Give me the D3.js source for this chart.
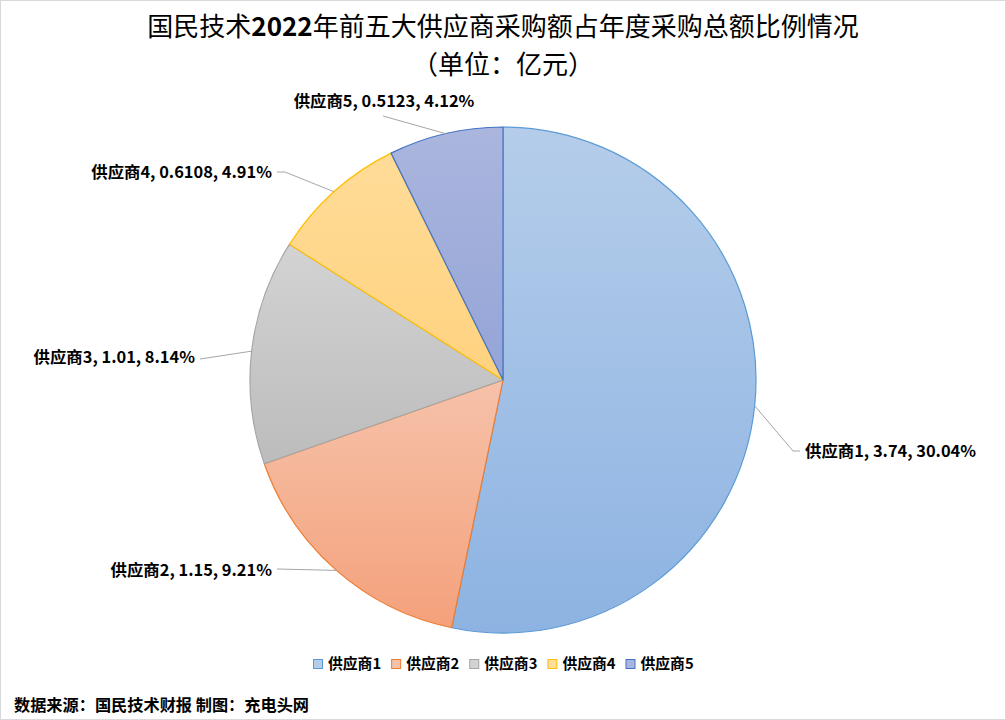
<!DOCTYPE html>
<html>
<head>
<meta charset="utf-8">
<script src="https://cdn.jsdelivr.net/npm/d3@7"></script>
<style>
  body { margin: 0; background: #fff; }
  svg { display: block; }
</style>
</head>
<body>
<svg id="chart" width="1006" height="720"></svg>
<script>
// data
var suppliers = ["供应商1", "供应商2", "供应商3", "供应商4", "供应商5"];
var amounts = [3.74, 1.15, 1.01, 0.6108, 0.5123];
var amountLabels = ["3.74", "1.15", "1.01", "0.6108", "0.5123"];
var shareLabels = ["30.04%", "9.21%", "8.14%", "4.91%", "4.12%"];

var W = 1006, H = 720;
var cx = 503, cy = 380, R = 253;
var font = "'Noto Sans CJK SC', 'Liberation Sans', sans-serif";

// office-like palette: stroke, light, dark
var strokes = ["#5b9bd5", "#ed7d31", "#a5a5a5", "#ffc000", "#4472c4"];
var lights = ["#b5cdea", "#f6c2aa", "#d3d3d3", "#ffdc98", "#abb6de"];
var darks = ["#8db3e2", "#f4a17b", "#bcbcbc", "#ffd27f", "#94a4d7"];

// label placement: [elbowX, elbowY, endX, endY, anchor, textX, textY]
var labelPos = [
  [793, 451, 800, 451, "start", 805, 451],
  [null, null, 277, 569, "end", 272, 570],
  [null, null, 200, 359, "end", 195, 357],
  [285, 172, 277, 172, "end", 272, 172],
  [null, null, 383, 116, "middle", 384, 101]
];

var svg = d3.select("#chart");

svg.append("rect")
  .attr("x", 0.5).attr("y", 0.5)
  .attr("width", W - 1).attr("height", H - 1)
  .attr("fill", "#fff").attr("stroke", "#d9d9d9");

var defs = svg.append("defs");
suppliers.forEach(function (s, i) {
  var g = defs.append("linearGradient")
    .attr("id", "g" + i)
    .attr("x1", 0).attr("y1", 0).attr("x2", 0).attr("y2", 1);
  g.append("stop").attr("offset", "0%").attr("stop-color", lights[i]);
  g.append("stop").attr("offset", "100%").attr("stop-color", darks[i]);
});

// title
var title = svg.append("text")
  .attr("x", W / 2).attr("y", 36)
  .attr("text-anchor", "middle")
  .attr("font-family", font)
  .attr("font-size", 26)
  .attr("fill", "#000");
title.append("tspan").text("国民技术");
title.append("tspan").attr("font-weight", "bold").text("2022");
title.append("tspan").text("年前五大供应商采购额占年度采购总额比例情况");

svg.append("text")
  .attr("x", W / 2).attr("y", 74)
  .attr("text-anchor", "middle")
  .attr("font-family", font)
  .attr("font-size", 26)
  .attr("fill", "#000")
  .text("（单位：亿元）");

// pie
var pie = d3.pie().sort(null).value(function (d) { return d; });
var arcs = pie(amounts);
var arc = d3.arc().innerRadius(0).outerRadius(R);

var g = svg.append("g").attr("transform", "translate(" + cx + "," + cy + ")");

g.selectAll("path.slice")
  .data(arcs)
  .enter().append("path")
  .attr("class", "slice")
  .attr("d", arc)
  .attr("fill", function (d, i) { return "url(#g" + i + ")"; })
  .attr("stroke", function (d, i) { return strokes[i]; })
  .attr("stroke-width", 1.2)
  .attr("stroke-linejoin", "round");

// leader lines + labels
arcs.forEach(function (d, i) {
  var a = (d.startAngle + d.endAngle) / 2;
  var px = cx + R * Math.sin(a);
  var py = cy - R * Math.cos(a);
  var p = labelPos[i];
  var pts = [[px, py]];
  if (p[0] !== null) pts.push([p[0], p[1]]);
  pts.push([p[2], p[3]]);
  svg.append("path")
    .attr("d", d3.line()(pts))
    .attr("fill", "none")
    .attr("stroke", "#a6a6a6")
    .attr("stroke-width", 1);

  svg.append("text")
    .attr("x", p[5]).attr("y", p[6])
    .attr("dy", "0.35em")
    .attr("text-anchor", p[4])
    .attr("font-family", font)
    .attr("font-size", 16.4)
    .attr("font-weight", "bold")
    .attr("fill", "#000")
    .text(suppliers[i] + ", " + amountLabels[i] + ", " + shareLabels[i]);
});

// legend
var legend = svg.append("g").attr("transform", "translate(313,664)");
var lx = 0;
suppliers.forEach(function (s, i) {
  var item = legend.append("g").attr("transform", "translate(" + lx + ",0)");
  item.append("rect")
    .attr("x", 0.5).attr("y", -4.5)
    .attr("width", 9).attr("height", 9)
    .attr("fill", lights[i])
    .attr("stroke", strokes[i]);
  var t = item.append("text")
    .attr("x", 15).attr("y", 0)
    .attr("dy", "0.35em")
    .attr("font-family", font)
    .attr("font-size", 14.8)
    .attr("font-weight", "bold")
    .attr("fill", "#000")
    .text(s);
  lx += 15 + t.node().getComputedTextLength() + 10;
});

// footer
svg.append("text")
  .attr("x", 14).attr("y", 711)
  .attr("font-family", font)
  .attr("font-size", 16.2)
  .attr("font-weight", "bold")
  .attr("fill", "#000")
  .text("数据来源：国民技术财报  制图：充电头网");
</script>
</body>
</html>
